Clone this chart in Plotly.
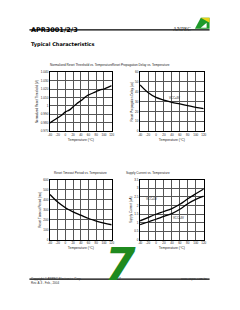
import plotly.graph_objects as go

# ---------------- data ----------------
temp_fine = [-40, -30, -20, -10, 0, 10, 20, 30, 40, 50, 60, 70, 80, 90, 100, 110, 120]
norm_threshold = [0.980, 0.983, 0.986, 0.989, 0.993, 0.995, 0.999, 1.003, 1.006,
                  1.010, 1.013, 1.015, 1.017, 1.019, 1.020, 1.022, 1.024]

temp = [-40, -20, 0, 20, 40, 60, 80, 100, 120]
prop_delay = [47, 39.3, 34.3, 31.7, 29.3, 27.7, 26, 24.3, 23]
timeout_period = [452, 377, 321, 279, 246, 213, 187, 167, 151]
supply_5v = [1.11, 1.30, 1.49, 1.65, 1.82, 2.07, 2.39, 2.68, 2.96]
supply_3v = [0.88, 1.04, 1.20, 1.37, 1.53, 1.78, 2.10, 2.35, 2.54]

x_ticks = [-40, -20, 0, 20, 40, 60, 80, 100, 120]
x_ticktext = ["-40", "-20", "0", "20", "40", "60", "80", "100", "120"]

y1_ticks = [0.97, 0.98, 0.99, 1.0, 1.01, 1.02, 1.03, 1.04]
y1_text = ["0.970", "0.980", "0.990", "1", "1.010", "1.020", "1.030", "1.040"]
y2_ticks = [0, 10, 20, 30, 40, 50, 60]
y3_ticks = [0, 100, 200, 300, 400, 500, 600]
y4_ticks = [0, 0.5, 1, 1.5, 2, 2.5, 3, 3.5]

titles = ["Normalized Reset Threshold vs. Temperature",
          "Reset Propagation Delay vs. Temperature",
          "Reset Timeout Period vs. Temperature",
          "Supply Current vs. Temperature"]
ytitles = ["Normalized Reset Threshold (V)", "Reset Propagation Delay (us)",
           "Reset Timeout Period (ms)", "Supply Current (uA)"]
xtitle = "Temperature (°C)"

W, H = 240, 310
def px(x): return x / W
def py(y): return 1 - y / H

FONT = "Liberation Sans"
fig = go.Figure()

line = dict(color="black", width=1.3, shape="spline")
fig.add_trace(go.Scatter(x=temp_fine, y=norm_threshold, mode="lines", line=line, xaxis="x", yaxis="y"))
fig.add_trace(go.Scatter(x=temp, y=prop_delay, mode="lines", line=line, xaxis="x2", yaxis="y2"))
fig.add_trace(go.Scatter(x=temp, y=timeout_period, mode="lines", line=line, xaxis="x3", yaxis="y3"))
fig.add_trace(go.Scatter(x=temp, y=supply_5v, mode="lines", line=line, xaxis="x4", yaxis="y4"))
fig.add_trace(go.Scatter(x=temp, y=supply_3v, mode="lines", line=line, xaxis="x4", yaxis="y4"))

boxes = [((49, 112), (71, 131)), ((141, 206), (71, 131)),
         ((49, 112), (180, 241)), ((141, 206), (180, 241))]
yinfo = [(y1_ticks, y1_text, [0.97, 1.04]),
         (y2_ticks, [str(v) for v in y2_ticks], [0, 60]),
         (y3_ticks, [str(v) for v in y3_ticks], [0, 600]),
         (y4_ticks, ["0", "0.5", "1", "1.5", "2", "2.5", "3", "3.5"], [0, 3.5])]

tickfont = dict(family=FONT, size=3, color="#222")
layout = {}
for i, (((x0, x1), (y0, y1)), (yt, ytt, yr)) in enumerate(zip(boxes, yinfo)):
    s = "" if i == 0 else str(i + 1)
    layout["xaxis" + s] = dict(domain=[px(x0), px(x1)], anchor="y" + s, range=[-40, 120],
                               tickvals=x_ticks, ticktext=x_ticktext, tickfont=tickfont,
                               tickangle=0,
                               showgrid=True, gridcolor="#555", gridwidth=0.7,
                               showline=True, linecolor="black", linewidth=1, mirror=True,
                               zeroline=False, ticks="", ticklen=0,
                               title=dict(text=xtitle, font=dict(family=FONT, size=3.4, color="#222"),
                                          standoff=2))
    layout["yaxis" + s] = dict(domain=[py(y1), py(y0)], anchor="x" + s, range=yr,
                               tickvals=yt, ticktext=ytt, tickfont=tickfont,
                               showgrid=True, gridcolor="#555", gridwidth=0.7,
                               showline=True, linecolor="black", linewidth=1, mirror=True,
                               zeroline=False, ticks="", ticklen=0,
                               title=dict(text=ytitles[i], font=dict(family=FONT, size=3, color="#222"),
                                          standoff=2))

annotations = []
for i, ((x0, x1), (y0, y1)) in enumerate(boxes):
    annotations.append(dict(x=px((x0 + x1) / 2), y=py(y0 - 3), xref="paper", yref="paper",
                            text=titles[i], showarrow=False, yanchor="bottom",
                            font=dict(family=FONT, size=3.1, color="#222")))
# curve labels
annotations += [
    dict(x=px(184), y=py(93), xref="paper", yref="paper", text="VCC=3V", showarrow=False,
         font=dict(family=FONT, size=2.8, color="#222")),
    dict(x=px(153), y=py(200), xref="paper", yref="paper", text="VCC=5V", showarrow=False,
         font=dict(family=FONT, size=2.8, color="#222")),
    dict(x=px(188), y=py(223), xref="paper", yref="paper", text="VCC=3V", showarrow=False,
         font=dict(family=FONT, size=2.8, color="#222")),
]
# page header / footer
annotations += [
    dict(x=px(28), y=py(22.5), xref="paper", yref="paper", text="<b>APR3001/2/3</b>",
         showarrow=False, xanchor="left", font=dict(family="DejaVu Sans", size=6.5, color="black")),
    dict(x=px(28), y=py(37.5), xref="paper", yref="paper", text="<b>Typical Characteristics</b>",
         showarrow=False, xanchor="left", font=dict(family="DejaVu Sans", size=5, color="black")),
    dict(x=px(195), y=py(22), xref="paper", yref="paper", text="ANPEC",
         showarrow=False, xanchor="right", font=dict(family="Liberation Serif", size=5.5, color="#333")),
    dict(x=px(121), y=py(266), xref="paper", yref="paper", text="<b><i>7</i></b>",
         showarrow=False, yanchor="middle", font=dict(family="DejaVu Sans", size=44, color="#1f8a1f")),
    dict(x=px(28), y=py(284.5), xref="paper", yref="paper", text="Copyright © ANPEC Electronics Corp.",
         showarrow=False, xanchor="left", font=dict(family=FONT, size=3, color="#333")),
    dict(x=px(28), y=py(289), xref="paper", yref="paper", text="Rev. A.3 - Feb., 2004",
         showarrow=False, xanchor="left", font=dict(family=FONT, size=3, color="#333")),
    dict(x=px(120), y=py(284.5), xref="paper", yref="paper", text="7",
         showarrow=False, font=dict(family=FONT, size=3, color="#333")),
    dict(x=px(212), y=py(284.5), xref="paper", yref="paper", text="www.anpec.com.tw",
         showarrow=False, xanchor="right", font=dict(family=FONT, size=3, color="#333")),
]

shapes = [
    dict(type="line", xref="paper", yref="paper", x0=px(28), x1=px(212), y0=py(28.3), y1=py(28.3),
         line=dict(color="black", width=1.2)),
    dict(type="line", xref="paper", yref="paper", x0=px(28), x1=px(212), y0=py(280.7), y1=py(280.7),
         line=dict(color="black", width=1.2)),
    # logo
    dict(type="path", xref="paper", yref="paper",
         path=f"M {px(197)},{py(27)} L {px(212)},{py(27)} L {px(212)},{py(16)} L {px(203)},{py(16)} Z",
         fillcolor="#1f9a2a", line=dict(width=0)),
    dict(type="path", xref="paper", yref="paper",
         path=f"M {px(203)},{py(16)} L {px(212)},{py(16)} L {px(212)},{py(21)} Z",
         fillcolor="#e8d21a", line=dict(width=0)),
    dict(type="path", xref="paper", yref="paper",
         path=f"M {px(203)},{py(26)} L {px(209)},{py(26)} L {px(209)},{py(21)} Z",
         fillcolor="white", line=dict(width=0)),
]

fig.update_layout(width=W, height=H, margin=dict(l=0, r=0, t=0, b=0),
                  paper_bgcolor="white", plot_bgcolor="white", showlegend=False,
                  annotations=annotations, shapes=shapes, **layout)
fig.write_html("out.html")
